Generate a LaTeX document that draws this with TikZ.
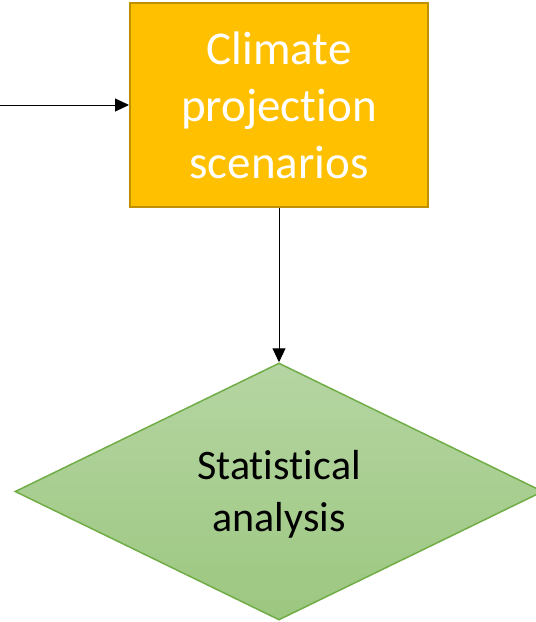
\documentclass[tikz,border=0pt]{standalone}
\usepackage{fontspec}
\setmainfont{Carlito}[Ligatures=CommonOff]
\usetikzlibrary{shapes.geometric,arrows.meta}
\definecolor{boxfill}{HTML}{FFC000}
\definecolor{boxline}{HTML}{BF9000}
\definecolor{dtop}{HTML}{B5D5A2}
\definecolor{dbot}{HTML}{9CC780}
\definecolor{dline}{HTML}{70AD47}
\newcommand{\nolig}{\kern0pt{}}
\tikzset{
  procbox/.style={rectangle, fill=boxfill, draw=boxline, line width=2pt,
    minimum width=298pt, minimum height=204pt, inner sep=0pt, align=center,
    text=white, font=\fontsize{47}{57}\selectfont},
  decision/.style={diamond, top color=dtop, bottom color=dbot, draw=dline,
    line width=1.5pt, minimum width=528pt, minimum height=257pt, inner sep=0pt},
  dlabel/.style={align=center, text=black, font=\fontsize{42}{52}\selectfont},
  conn/.style={line width=1pt, -{Triangle[length=14pt,width=13pt]}}
}
\begin{document}
\begin{tikzpicture}[x=1pt,y=1pt]
\useasboundingbox (0,0) rectangle (536,-622);
\node[procbox] (box) at (279,-105) {Climate\\projec\nolig tion\\scenarios};
\node[decision] (dia) at (279,-491.5) {};
\node[dlabel] (dtext) at (279,-494) {Statis\nolig ti\nolig cal\\analysis};
\coordinate (src) at (0,-105);
\draw[conn] (src) -- (box.west);
\draw[conn] (box.south) -- (dia.north);
\end{tikzpicture}
\end{document}
